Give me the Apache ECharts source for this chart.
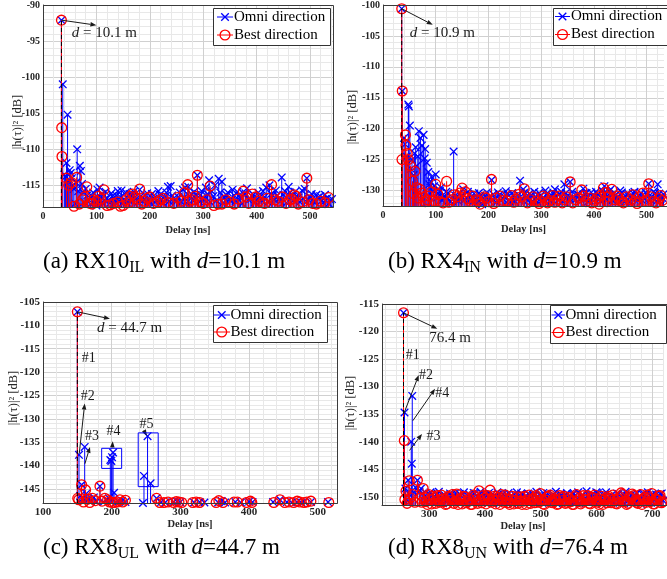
<!DOCTYPE html>
<html><head><meta charset="utf-8">
<script src="https://cdn.jsdelivr.net/npm/echarts@6/dist/echarts.min.js"></script>
<style>html,body{margin:0;padding:0;background:#fff}#c{width:667px;height:579px}</style>
</head><body><div id="c"></div>
<script>
// ---------------- DATA (delay [ns], |h|^2 [dB]) ----------------
const xTickStep = 100;   // labelled x ticks
const yTickStep = 5;     // labelled y ticks

// (a) RX10_IL
const omniA = [[34.5,-92.1],[37,-101.0],[40,-113.5],[42,-113.8],[44,-111.9],[46,-105.2],[48,-114.5],[50,-112.9],[52,-113.3],[54,-114.0],[56,-115.0],[58,-115.5],[60,-117.5],[62,-114.6],[64,-110.0],[66,-115.8],[69,-112.3],[71,-113.0],[73,-114.8],[75,-116.0],[80,-115.5],[86,-117.0],[92,-116.5],[97,-117.2],[100,-117.8],[102,-115.6],[106,-115.3],[110,-116.2],[115,-117.0],[120,-116.8],[126,-117.4],[130,-116.5],[135,-117.1],[140,-115.8],[145,-116.6],[150,-117.3],[155,-116.0],[160,-117.0],[165,-116.3],[170,-115.9],[175,-116.8],[181,-115.6],[186,-117.2],[192,-116.4],[198,-117.0],[204,-116.2],[210,-117.3],[216,-115.8],[222,-116.9],[228,-116.6],[234,-115.2],[239,-115.1],[245,-116.8],[250,-117.2],[256,-116.0],[262,-115.6],[266,-115.3],[272,-115.2],[278,-116.2],[283,-115.9],[289,-113.6],[295,-116.3],[300,-116.9],[305,-115.3],[311,-114.3],[316,-115.8],[322,-115.0],[329,-114.1],[335,-114.5],[340,-116.7],[346,-116.0],[352,-117.1],[358,-116.4],[364,-115.9],[370,-116.8],[376,-116.2],[382,-115.4],[388,-116.9],[394,-116.3],[400,-117.0],[406,-116.6],[412,-115.8],[418,-115.3],[424,-115.0],[430,-116.4],[436,-115.7],[442,-116.8],[447,-113.9],[453,-115.8],[460,-115.2],[466,-116.5],[472,-115.9],[478,-116.7],[485,-115.7],[490,-115.5],[494,-114.0],[500,-116.6],[506,-117.2],[512,-116.3],[519,-116.5],[525,-117.4],[532,-116.8],[538,-117.0]];
const omniAFloor = [[77,-117.3],[83,-116.4],[89,-117.6],[94,-116.0],[99,-116.8],[104,-117.1],[108,-116.7],[112,-117.5],[117,-115.9],[123,-117.0],[128,-116.1],[132,-117.6],[137,-116.4],[142,-117.2],[147,-115.7],[152,-116.9],[157,-117.4],[162,-116.2],[167,-117.1],[172,-116.6],[178,-117.3],[183,-116.5],[189,-117.0],[195,-116.1],[201,-117.4],[207,-116.8],[213,-117.1],[219,-116.3],[225,-117.5],[231,-116.0],[236,-117.2],[242,-116.4],[247,-117.0],[253,-116.6],[259,-117.3],[264,-116.7],[269,-117.4],[275,-116.5],[280,-117.1],[286,-116.3],[292,-117.2],[297,-115.8],[302,-117.0],[308,-116.2],[313,-117.3],[319,-116.5],[325,-117.1],[332,-116.0],[337,-117.4],[343,-116.3],[349,-117.0],[355,-115.6],[361,-117.2],[367,-116.4],[373,-117.5],[379,-116.1],[385,-117.0],[391,-116.5],[397,-117.3],[403,-116.0],[409,-117.1],[415,-116.6],[421,-117.3],[427,-116.2],[433,-117.0],[439,-116.4],[444,-117.2],[450,-116.3],[456,-117.4],[463,-116.0],[469,-117.1],[475,-116.5],[481,-117.3],[487,-116.8],[497,-117.0],[503,-116.2],[509,-117.4],[515,-116.7],[522,-117.1],[528,-116.3],[535,-117.5],[541,-116.9]];
const bestA = [[34.5,-92.1],[35,-107.0],[35.5,-111.0],[44,-114.0],[48,-115.0],[53,-114.6],[58,-117.9],[63,-113.9],[68,-117.6],[74,-117.0],[78,-116.6],[82,-115.2],[88,-117.5],[92,-117.6],[95,-117.0],[100,-117.2],[104,-116.5],[108,-116.9],[114,-115.6],[120,-117.8],[126,-117.7],[132,-117.5],[140,-117.3],[145,-117.9],[150,-117.8],[156,-117.0],[160,-117.4],[163,-116.5],[168,-116.2],[172,-116.6],[176,-116.9],[181,-115.5],[185,-117.6],[190,-117.2],[195,-116.8],[200,-116.6],[207,-117.5],[215,-117.3],[220,-117.0],[225,-116.8],[235,-117.4],[245,-117.5],[252,-116.7],[258,-117.2],[265,-116.0],[271,-114.9],[275,-117.2],[280,-117.0],[285,-116.5],[289,-113.6],[295,-117.3],[300,-117.5],[307,-117.0],[313,-115.1],[320,-117.8],[328,-117.6],[335,-117.6],[342,-117.0],[350,-117.3],[358,-117.6],[365,-116.9],[375,-115.8],[380,-116.6],[385,-117.5],[392,-116.2],[398,-116.6],[404,-117.2],[410,-117.4],[415,-117.5],[420,-116.8],[428,-114.9],[434,-117.0],[440,-117.2],[448,-116.6],[455,-117.5],[462,-117.0],[466,-116.9],[470,-116.3],[474,-116.5],[478,-117.6],[486,-117.3],[494,-114.0],[498,-117.0],[505,-117.5],[512,-117.6],[520,-117.2],[528,-117.4],[535,-116.7]];
const losA = [[34.5,-92.1]];

// (b) RX4_IN
const omniB = [[35.5,-100.6],[36.5,-113.9],[40,-121.5],[42,-122.5],[45,-124.5],[48,-116.1],[49,-116.4],[51,-119.5],[53,-126.5],[55,-125.0],[58,-127.5],[60,-124.0],[62,-123.0],[64,-126.0],[66,-124.5],[68,-120.4],[71,-121.5],[74,-122.7],[77,-121.0],[79,-124.8],[80,-123.3],[83,-125.5],[86,-127.0],[88,-129.0],[90,-128.5],[92,-127.8],[95,-130.0],[97,-129.3],[100,-127.4],[105,-130.5],[110,-129.5],[115,-131.0],[120,-130.2],[126,-131.5],[134,-123.7],[140,-131.0],[146,-130.4],[152,-129.8],[158,-131.2],[164,-130.7],[170,-131.8],[176,-131.3],[182,-130.4],[188,-132.2],[194,-130.9],[200,-131.5],[206,-128.3],[212,-131.2],[218,-130.3],[224,-131.6],[230,-131.0],[236,-130.6],[242,-131.8],[248,-130.9],[254,-131.3],[260,-128.4],[266,-129.8],[272,-131.0],[278,-130.5],[284,-131.7],[290,-131.1],[296,-130.4],[302,-131.5],[308,-130.0],[314,-131.3],[320,-130.8],[326,-129.8],[332,-131.5],[338,-130.2],[344,-129.0],[350,-130.8],[355,-128.6],[362,-131.2],[368,-130.6],[374,-131.4],[380,-129.7],[386,-130.4],[392,-131.6],[398,-131.0],[404,-130.2],[410,-131.5],[416,-130.0],[420,-129.3],[426,-130.8],[432,-129.8],[438,-130.4],[444,-131.2],[450,-130.0],[456,-131.4],[462,-130.6],[468,-131.8],[474,-130.4],[480,-131.2],[486,-130.9],[492,-131.6],[498,-130.3],[504,-128.9],[510,-131.0],[516,-130.4],[521,-129.0],[527,-131.3],[532,-130.6]];
const omniBFloor = [[102,-131.2],[108,-130.0],[112,-131.6],[118,-131.0],[123,-130.4],[129,-131.8],[137,-130.8],[143,-131.7],[149,-130.9],[155,-131.5],[161,-130.2],[167,-131.4],[173,-130.5],[179,-131.9],[185,-130.8],[191,-131.6],[197,-130.3],[203,-131.2],[209,-130.6],[215,-131.9],[221,-130.7],[227,-131.3],[233,-130.1],[239,-131.5],[245,-130.4],[251,-131.8],[257,-130.7],[263,-131.4],[269,-130.3],[275,-131.6],[281,-130.8],[287,-130.2],[293,-131.8],[299,-130.9],[305,-131.4],[311,-130.5],[317,-131.7],[323,-130.3],[329,-131.0],[335,-130.6],[341,-131.8],[347,-130.4],[353,-131.3],[359,-130.2],[365,-131.5],[371,-130.7],[377,-131.2],[383,-130.5],[389,-131.8],[395,-130.3],[401,-131.1],[407,-130.6],[413,-131.7],[419,-130.4],[423,-131.4],[429,-130.1],[435,-131.6],[441,-130.7],[447,-131.3],[453,-130.3],[459,-131.8],[465,-130.5],[471,-131.0],[477,-130.2],[483,-131.6],[489,-130.4],[495,-131.3],[501,-130.6],[507,-131.5],[513,-130.2],[519,-131.7],[524,-130.5],[530,-131.2]];
const bestB = [[35.5,-100.6],[36.5,-113.9],[36,-125.0],[42.5,-121.0],[43.5,-122.7],[46,-124.0],[48,-125.0],[52,-126.0],[56,-128.5],[58,-130.5],[60.6,-126.9],[64,-129.5],[67,-131.2],[70,-129.8],[73,-130.4],[76,-131.0],[80,-131.8],[84,-131.5],[88,-130.9],[92,-130.2],[96,-131.6],[100,-129.0],[104,-130.6],[108,-131.8],[114,-132.0],[120.7,-128.5],[125,-131.9],[130,-131.5],[135,-130.7],[140,-131.0],[146,-130.4],[150,-129.6],[156,-130.2],[160,-131.3],[164,-131.6],[170,-130.9],[176,-131.5],[180,-131.6],[184,-132.2],[192,-131.0],[196,-131.2],[200,-131.8],[205.8,-128.2],[210,-132.1],[215,-131.2],[222,-130.9],[228,-131.6],[236,-131.7],[244,-130.8],[248,-131.9],[252,-131.4],[258,-130.6],[262,-131.0],[268,-129.7],[274,-132.0],[280,-131.5],[285,-131.0],[290,-131.7],[296,-132.1],[300,-131.8],[304,-130.9],[308,-131.2],[312,-132.0],[316,-131.6],[322,-130.8],[326,-131.9],[330,-131.4],[335,-130.9],[340,-132.0],[344,-131.5],[348,-131.0],[355,-128.6],[360,-132.0],[365,-131.5],[371,-131.2],[377,-129.9],[381,-130.9],[385,-131.8],[392,-131.2],[396,-132.0],[402,-131.6],[406,-131.2],[410,-132.2],[413,-130.8],[418,-129.6],[422,-130.3],[425,-131.8],[428,-131.0],[434,-129.8],[440,-131.5],[444,-130.9],[448,-131.3],[452,-131.7],[456,-132.0],[462,-131.0],[470,-131.5],[474,-130.7],[478,-131.8],[482,-132.1],[486,-131.0],[493,-130.4],[498,-131.6],[504,-128.9],[508,-131.0],[512,-131.8],[518,-132.0],[524,-131.3],[527,-130.8],[530,-131.6]];
const losB = [[35.5,-100.6]];

// (c) RX8_UL
const omniC = [[150,-107.1],[152.4,-137.7],[154,-146.5],[156.2,-144.1],[158,-147.0],[160.7,-136.0],[163,-146.0],[166,-147.2],[170,-147.5],[174,-146.8],[178,-147.7],[182.9,-144.4],[188,-147.8],[192,-147.3],[196,-147.0],[198,-138.8],[199.5,-139.0],[200.5,-138.2],[202,-137.2],[203.5,-145.8],[206,-147.9],[210,-147.7],[215,-147.5],[220,-147.8],[245.5,-148.0],[247,-142.2],[252.2,-133.7],[256.6,-143.8],[265.3,-147.0],[272,-147.8],[278,-147.9],[290,-147.8],[295,-147.7],[300,-147.8],[320,-147.9],[328,-147.8],[335,-147.9],[355,-147.9],[360,-147.6],[365,-147.9],[380,-147.8],[388,-147.9],[400,-147.7],[405,-147.8],[435,-147.8],[445,-147.3],[455,-147.8],[462,-147.9],[470,-147.8],[476,-147.9],[480,-147.7],[490,-147.8],[515,-147.8]];
const bestC = [[150,-107.1],[150.5,-147.0],[152,-147.3],[156.2,-144.1],[159,-147.8],[162,-145.2],[164.5,-147.2],[168,-147.9],[172,-147.0],[176,-147.5],[182.9,-144.4],[186,-147.6],[190,-147.0],[194,-147.3],[197,-147.8],[201,-147.9],[204,-147.9],[208,-147.8],[212,-147.3],[216,-147.8],[220,-147.4],[265.3,-147.0],[270,-147.9],[276,-147.9],[282,-147.8],[290,-147.9],[294,-147.7],[298,-147.8],[302,-147.9],[318,-147.9],[323,-147.8],[328,-147.9],[352,-147.9],[356,-147.5],[362,-147.9],[378,-147.8],[383,-147.8],[396,-147.9],[402,-147.6],[404,-147.9],[436,-147.9],[445,-147.3],[452,-147.9],[458,-147.8],[465,-147.9],[470,-147.6],[474,-147.8],[480,-147.9],[484,-147.8],[490,-147.6],[516,-147.9]];
const losC = [[150,-107.1]];

// (d) RX8_UN
const omniD = [[253.6,-116.6],[255.4,-134.7],[257,-148.5],[259,-150.5],[262,-147.0],[264,-149.5],[267.5,-140.0],[268.5,-144.0],[269.3,-131.7],[272,-149.2],[275,-148.3],[278.6,-147.0],[282,-149.0],[285,-148.5],[288,-149.4],[292,-149.8],[297,-150.3],[302,-149.2],[307,-150.6],[312,-149.6],[317,-149.1],[322,-150.2],[327,-149.7],[332,-150.8],[337,-149.4],[342,-150.1],[347,-149.3],[352,-150.5],[357,-149.8],[362,-149.2],[367,-150.3],[372,-149.6],[377,-150.9],[382,-149.4],[387,-149.9],[392,-149.1],[397,-150.4],[402,-149.7],[407,-149.3],[412,-150.6],[417,-149.8],[422,-149.2],[427,-150.1],[432,-149.5],[437,-150.7],[442,-149.3],[447,-149.9],[452,-150.4],[457,-149.2],[462,-150.0],[467,-149.6],[472,-150.8],[477,-149.4],[482,-150.2],[487,-149.7],[492,-149.1],[497,-150.5],[502,-149.8],[507,-150.3],[512,-149.4],[517,-150.9],[522,-149.6],[527,-149.1],[532,-150.2],[537,-149.7],[542,-150.6],[547,-149.3],[552,-150.0],[557,-149.5],[562,-150.7],[567,-149.2],[572,-149.9],[577,-150.4],[582,-149.0],[587,-150.1],[592,-149.6],[597,-150.8],[602,-149.3],[607,-150.2],[612,-149.7],[617,-149.2],[622,-150.5],[627,-149.8],[632,-150.3],[637,-149.4],[642,-150.9],[647,-149.6],[652,-149.1],[657,-150.2],[662,-149.7],[667,-150.6],[672,-149.3],[677,-150.0],[682,-149.5],[687,-150.7],[692,-149.2],[697,-149.9],[702,-150.4],[707,-149.6],[712,-150.1],[717,-149.4]];
const omniDFloor = [[294.5,-150.9],[299.5,-149.5],[304.5,-151.0],[309.5,-150.1],[314.5,-149.4],[319.5,-150.7],[324.5,-151.2],[329.5,-149.9],[334.5,-150.4],[339.5,-149.6],[344.5,-151.1],[349.5,-150.2],[354.5,-149.5],[359.5,-150.8],[364.5,-151.3],[369.5,-149.8],[374.5,-150.5],[379.5,-149.3],[384.5,-150.9],[389.5,-150.2],[394.5,-151.1],[399.5,-149.6],[404.5,-150.7],[409.5,-149.9],[414.5,-151.2],[419.5,-150.4],[424.5,-149.5],[429.5,-150.8],[434.5,-151.0],[439.5,-149.7],[444.5,-150.5],[449.5,-151.3],[454.5,-149.8],[459.5,-150.6],[464.5,-149.4],[469.5,-151.0],[474.5,-150.1],[479.5,-149.6],[484.5,-150.9],[489.5,-151.2],[494.5,-149.9],[499.5,-150.4],[504.5,-149.3],[509.5,-150.7],[514.5,-151.1],[519.5,-149.8],[524.5,-150.5],[529.5,-151.3],[534.5,-149.5],[539.5,-150.3],[544.5,-149.9],[549.5,-151.0],[554.5,-150.2],[559.5,-149.4],[564.5,-150.8],[569.5,-151.2],[574.5,-149.7],[579.5,-150.6],[584.5,-151.0],[589.5,-149.8],[594.5,-150.4],[599.5,-149.2],[604.5,-150.9],[609.5,-151.3],[614.5,-149.6],[619.5,-150.5],[624.5,-149.9],[629.5,-151.1],[634.5,-150.2],[639.5,-149.5],[644.5,-150.7],[649.5,-151.2],[654.5,-149.8],[659.5,-150.4],[664.5,-151.0],[669.5,-149.7],[674.5,-150.6],[679.5,-151.3],[684.5,-149.4],[689.5,-150.3],[694.5,-150.9],[699.5,-149.6],[704.5,-150.2],[709.5,-151.1],[714.5,-149.5],[719.5,-150.7]];
const bestD = [[253.6,-116.6],[255,-139.8],[256,-150.5],[258,-149.0],[260,-151.2],[264,-147.1],[266,-150.2],[270,-149.6],[274,-151.0],[278.6,-147.0],[283,-150.3],[289,-148.5],[294,-150.9],[299,-149.6],[304,-151.3],[309,-150.2],[314,-149.8],[319,-151.0],[324,-150.4],[329,-151.4],[334,-149.9],[339,-150.7],[344,-151.2],[349,-149.5],[354,-150.6],[359,-151.3],[364,-150.0],[369,-150.8],[374,-151.4],[379,-149.7],[384,-150.5],[389,-148.9],[394,-151.1],[399,-150.3],[404,-149.8],[409,-148.8],[414,-150.6],[419,-151.3],[424,-150.1],[429,-149.6],[434,-151.0],[439,-150.4],[444,-151.4],[449,-149.9],[454,-150.7],[459,-151.2],[464,-150.0],[469,-150.8],[474,-151.4],[479,-149.7],[484,-150.5],[489,-151.1],[494,-150.2],[499,-149.4],[504,-151.3],[509,-150.6],[514,-149.9],[519,-151.0],[524,-150.4],[529,-151.4],[534,-149.8],[539,-150.7],[544,-151.2],[549,-150.1],[554,-150.9],[559,-151.4],[564,-149.6],[569,-150.3],[574,-151.0],[579,-150.5],[584,-149.8],[589,-151.3],[594,-150.2],[599,-150.8],[604,-151.4],[609,-149.9],[614,-150.6],[619,-151.1],[624,-150.3],[629,-149.7],[634,-151.2],[639,-150.4],[644,-149.3],[649,-150.9],[654,-151.4],[659,-150.0],[664,-149.5],[669,-150.7],[674,-151.2],[679,-149.6],[684,-150.4],[689,-151.0],[694,-150.2],[699,-149.4],[704,-151.3],[709,-150.6],[714,-149.8],[719,-150.9]];
const bestDFloor = [[286.5,-151.0],[291.5,-150.2],[296.5,-151.4],[301.5,-150.5],[306.5,-149.9],[311.5,-151.2],[316.5,-150.6],[321.5,-149.7],[326.5,-150.9],[331.5,-151.3],[336.5,-150.1],[341.5,-149.6],[346.5,-150.8],[351.5,-151.4],[356.5,-150.3],[361.5,-149.9],[366.5,-151.1],[371.5,-150.4],[376.5,-151.4],[381.5,-150.0],[386.5,-151.2],[391.5,-150.6],[396.5,-149.8],[401.5,-151.3],[406.5,-150.4],[411.5,-151.0],[416.5,-149.9],[421.5,-150.7],[426.5,-151.4],[431.5,-150.2],[436.5,-149.7],[441.5,-151.1],[446.5,-150.5],[451.5,-151.3],[456.5,-150.0],[461.5,-150.8],[466.5,-151.4],[471.5,-149.9],[476.5,-150.6],[481.5,-151.2],[486.5,-150.3],[491.5,-149.8],[496.5,-151.0],[501.5,-150.5],[506.5,-151.4],[511.5,-150.1],[516.5,-149.7],[521.5,-151.1],[526.5,-150.6],[531.5,-151.3],[536.5,-150.2],[541.5,-149.9],[546.5,-151.0],[551.5,-150.4],[556.5,-151.4],[561.5,-150.0],[566.5,-150.8],[571.5,-151.3],[576.5,-149.8],[581.5,-150.6],[586.5,-151.2],[591.5,-150.1],[596.5,-149.7],[601.5,-151.0],[606.5,-150.4],[611.5,-151.4],[616.5,-150.2],[621.5,-149.9],[626.5,-151.1],[631.5,-150.5],[636.5,-151.3],[641.5,-150.0],[646.5,-149.6],[651.5,-150.8],[656.5,-151.2],[661.5,-150.3],[666.5,-149.8],[671.5,-151.0],[676.5,-150.6],[681.5,-151.4],[686.5,-150.1],[691.5,-149.7],[696.5,-150.9],[701.5,-151.3],[706.5,-150.4],[711.5,-149.9],[716.5,-151.1]];
const losD = [[253.6,-116.6]];

const captions = ['(a) RX10{s|IL} with {i|d}=10.1 m','(b) RX4{s|IN} with {i|d}=10.9 m','(c) RX8{s|UL} with {i|d}=44.7 m','(d) RX8{s|UN} with {i|d}=76.4 m'];
const distLabels = ['{i|d} = 10.1 m','{i|d} = 10.9 m','{i|d} = 44.7 m','76.4 m'];
const legendNames = ['Omni direction','Best direction'];

// ---------------- LAYOUT / STYLE ----------------
const SERIF = '"Liberation Serif","Times New Roman",serif';
const MAJ = '#d0d0d0', MIN = '#e8e8e8', TR = 'rgba(0,0,0,0)';
const AX = '#3a3a3a', BLUE = '#0000ff', RED = '#ff0000';
const MW = 1.3; // marker stroke width

function isMul(v, m) { const q = v / m; return Math.abs(q - Math.round(q)) < 1e-6; }
function cycle(min, step, minor, major) {
  const n = Math.round(major / step), out = [];
  for (let i = 0; i < n; i++) { const v = min + i * step; out.push(isMul(v, major) ? MAJ : (isMul(v, minor) ? MIN : TR)); }
  return out;
}

const panels = [
  {grid:{left:43,top:5,width:290,height:202}, x:{min:0,max:543,step:20}, y:{min:-118,max:-90,step:1}, fs:10, omni:omniA.concat(omniAFloor), best:bestA, los:losA},
  {grid:{left:383,top:5,width:284,height:201}, x:{min:0,max:533,step:20}, y:{min:-132.5,max:-100,step:0.5}, fs:10, omni:omniB.concat(omniBFloor), best:bestB, los:losB},
  {grid:{left:43,top:302,width:294,height:201}, x:{min:100,max:528,step:20}, y:{min:-148,max:-105,step:1}, fs:11, omni:omniC, best:bestC, los:losC},
  {grid:{left:382,top:304,width:285,height:201}, x:{min:215,max:721,step:5}, y:{min:-151.5,max:-115,step:0.5}, fs:11, omni:omniD.concat(omniDFloor), best:bestD.concat(bestDFloor), los:losD}
];

function stemRender(color, kind) {
  return function (params, api) {
    const p = api.coord([api.value(0), api.value(1)]);
    const cs = params.coordSys;
    const bottom = cs.y + cs.height;
    const st = {stroke: color, lineWidth: 1};
    const mk = {stroke: color, lineWidth: MW};
    const children = [{type:'line', shape:{x1:p[0], y1:bottom, x2:p[0], y2:p[1]}, style: Object.assign({}, st, kind === 'dash' ? {lineDash:[4,3], stroke:'#000'} : {})}];
    if (kind === 'x') {
      const s = 3.8;
      children.push({type:'line', shape:{x1:p[0]-s,y1:p[1]-s,x2:p[0]+s,y2:p[1]+s}, style:mk});
      children.push({type:'line', shape:{x1:p[0]-s,y1:p[1]+s,x2:p[0]+s,y2:p[1]-s}, style:mk});
    } else if (kind === 'o') {
      children.push({type:'circle', shape:{cx:p[0], cy:p[1], r:4.9}, style:{fill:'none', stroke:color, lineWidth:MW}});
    }
    return {type:'group', children};
  };
}

const grids = [], xAxes = [], yAxes = [], series = [];
panels.forEach((P, i) => {
  grids.push(Object.assign({show:false, containLabel:false}, P.grid));
  xAxes.push({
    gridIndex:i, type:'value', min:P.x.min, max:P.x.max, interval:P.x.step,
    axisLine:{show:true, onZero:false, lineStyle:{color:AX}}, axisTick:{show:false},
    splitLine:{show:true, showMaxLine:false, lineStyle:{color:cycle(P.x.min, P.x.step, 20, xTickStep), width:1}},
    axisLabel:{formatter:v => isMul(v, xTickStep) ? String(Math.round(v)) : '', fontFamily:SERIF, fontWeight:'bold', fontSize:P.fs, color:'#262626', margin:4},
    name:'Delay [ns]', nameLocation:'middle', nameGap: i < 2 ? 18 : 16,
    nameTextStyle:{fontFamily:SERIF, fontWeight:'bold', fontSize:10.5, color:'#262626'}
  });
  yAxes.push({
    gridIndex:i, type:'value', min:P.y.min, max:P.y.max, interval:P.y.step,
    axisLine:{show:true, onZero:false, lineStyle:{color:AX}}, axisTick:{show:false},
    splitLine:{show:true, showMaxLine:false, lineStyle:{color:cycle(P.y.min, P.y.step, 1, yTickStep), width:1}},
    axisLabel:{formatter:v => isMul(v, yTickStep) ? String(Math.round(v)) : '', fontFamily:SERIF, fontWeight:'bold', fontSize:P.fs, color:'#262626', margin:3}
  });
  series.push({type:'custom', name:legendNames[0], xAxisIndex:i, yAxisIndex:i, data:P.omni, encode:{x:0,y:1}, renderItem:stemRender(BLUE,'x'), z:2, silent:true});
  series.push({type:'custom', name:legendNames[1], xAxisIndex:i, yAxisIndex:i, data:P.best, encode:{x:0,y:1}, renderItem:stemRender(RED,'o'), z:3, silent:true});
  series.push({type:'custom', name:'LoS', xAxisIndex:i, yAxisIndex:i, data:P.los, encode:{x:0,y:1}, renderItem:stemRender('#000','dash'), z:4, silent:true});
});

const chart = echarts.init(document.getElementById('c'));
chart.setOption({animation:false, backgroundColor:'#fff', grid:grids, xAxis:xAxes, yAxis:yAxes, series});

// ---------------- ANNOTATIONS ----------------
const annotations = [
  {arrows:[[[34.5,-92.1],[100,-92.8]]], texts:[[54,-93.9,distLabels[0],15]], boxes:[]},
  {arrows:[[[35.5,-100.6],[94.4,-103.2]]], texts:[[50.7,-104.6,distLabels[1],15]], boxes:[]},
  {arrows:[[[150,-107.1],[197.5,-108.6]],[[152.8,-137.4],[160.7,-126.7]],[[161,-139.6],[168.4,-136]],[[201,-135.9],[201.5,-134.8]],[[246.5,-132.4],[251.3,-133.6]]],
   texts:[[178.5,-110.5,distLabels[2],15],[156.3,-117.0,'#1',14],[155,-125.2,'#2',14],[161,-133.8,'#3',14],[192.6,-132.7,'#4',14],[240.6,-131.2,'#5',14]],
   boxes:[[[185.4,-136.3],[214.5,-140.6]],[[238.6,-133],[267.7,-144.5]]]},
  {arrows:[[[253.6,-116.6],[314.3,-119.5]],[[253.8,-135],[281,-127.9]],[[270.3,-136.2],[310.2,-130.4]],[[264.3,-141.6],[286.8,-138.6]]],
   texts:[[300,-121.2,distLabels[3],15],[257.4,-124.3,'#1',14],[281.6,-127.9,'#2',14],[310.7,-131.2,'#4',14],[294.8,-139,'#3',14]], boxes:[]}
];
const legendBoxes = [
  {x:213,y:8,w:117,h:37,lx1:217,lx2:233,tx:234,y1:17,y2:35},
  {x:553,y:8,w:116,h:37,lx1:555,lx2:570,tx:571,y1:16.5,y2:34.5},
  {x:213,y:305,w:114,h:37,lx1:213.5,lx2:230,tx:230.5,y1:315,y2:332},
  {x:550,y:305,w:116,h:38,lx1:551.5,lx2:565,tx:565.5,y1:315,y2:332.5}
];
const yTitlePos = [[18,122],[353,117],[14,398],[351,403]];
const captionPos = [[43,262],[388,262],[43,548],[388,548]];

const G = [];
function arrow(p1, p2) {
  const ang = Math.atan2(p2[1]-p1[1], p2[0]-p1[0]);
  const L = 6, W = 2.3;
  const bx = p2[0] - L*Math.cos(ang), by = p2[1] - L*Math.sin(ang);
  const nx = -Math.sin(ang), ny = Math.cos(ang);
  G.push({type:'line', z:50, shape:{x1:p1[0],y1:p1[1],x2:bx,y2:by}, style:{stroke:'#1a1a1a', lineWidth:1}});
  G.push({type:'polygon', z:50, shape:{points:[[p2[0],p2[1]],[bx+nx*W,by+ny*W],[bx-nx*W,by-ny*W]]}, style:{fill:'#1a1a1a'}});
}
annotations.forEach((A, i) => {
  const px = v => chart.convertToPixel({gridIndex:i}, v);
  A.arrows.forEach(a => arrow(px(a[0]), px(a[1])));
  A.texts.forEach(t => {
    const p = px([t[0], t[1]]);
    G.push({type:'text', z:50, x:p[0], y:p[1], style:{text:t[2], fontFamily:SERIF, fontSize:t[3], fill:'#1a1a1a', align:'left', verticalAlign:'middle', rich:{i:{fontStyle:'italic', fontFamily:SERIF, fontSize:t[3], fill:'#1a1a1a'}}}});
  });
  A.boxes.forEach(b => {
    const p1 = px(b[0]), p2 = px(b[1]);
    G.push({type:'rect', z:50, shape:{x:Math.min(p1[0],p2[0]), y:Math.min(p1[1],p2[1]), width:Math.abs(p2[0]-p1[0]), height:Math.abs(p2[1]-p1[1])}, style:{fill:'none', stroke:BLUE, lineWidth:1}});
  });
});
// plot borders
panels.forEach(P => {
  const g = P.grid;
  G.push({type:'rect', z:40, shape:{x:g.left+0.5, y:g.top+0.5, width:g.width, height:g.height}, style:{fill:'none', stroke:AX, lineWidth:1}});
});
// legends
legendBoxes.forEach(L => {
  G.push({type:'rect', z:60, shape:{x:L.x+0.5, y:L.y+0.5, width:L.w, height:L.h}, style:{fill:'#fff', stroke:'#333', lineWidth:1}});
  const mx = (L.lx1 + L.lx2) / 2, s = 3.8;
  G.push({type:'line', z:61, shape:{x1:L.lx1,y1:L.y1,x2:L.lx2,y2:L.y1}, style:{stroke:BLUE, lineWidth:1}});
  G.push({type:'line', z:61, shape:{x1:mx-s,y1:L.y1-s,x2:mx+s,y2:L.y1+s}, style:{stroke:BLUE, lineWidth:MW}});
  G.push({type:'line', z:61, shape:{x1:mx-s,y1:L.y1+s,x2:mx+s,y2:L.y1-s}, style:{stroke:BLUE, lineWidth:MW}});
  G.push({type:'line', z:61, shape:{x1:L.lx1,y1:L.y2,x2:L.lx2,y2:L.y2}, style:{stroke:RED, lineWidth:1}});
  G.push({type:'circle', z:61, shape:{cx:mx, cy:L.y2, r:4.9}, style:{fill:'none', stroke:RED, lineWidth:MW}});
  G.push({type:'text', z:61, x:L.tx, y:L.y1, style:{text:legendNames[0], fontFamily:SERIF, fontSize:15, fill:'#000', align:'left', verticalAlign:'middle'}});
  G.push({type:'text', z:61, x:L.tx, y:L.y2, style:{text:legendNames[1], fontFamily:SERIF, fontSize:15, fill:'#000', align:'left', verticalAlign:'middle'}});
});
// y titles
yTitlePos.forEach(p => {
  G.push({type:'text', z:50, x:p[0], y:p[1], rotation:Math.PI/2, style:{text:'|h(τ)|² [dB]', fontFamily:SERIF, fontSize:12.5, fill:'#262626', align:'center', verticalAlign:'middle'}});
});
// captions
captionPos.forEach((p, i) => {
  G.push({type:'text', z:50, x:p[0], y:p[1], style:{text:captions[i], fontFamily:SERIF, fontSize:23, lineHeight:28, fill:'#000', align:'left', verticalAlign:'middle',
    rich:{s:{fontFamily:SERIF, fontSize:16, lineHeight:13, verticalAlign:'bottom', fill:'#000'}, i:{fontFamily:SERIF, fontSize:23, lineHeight:28, fontStyle:'italic', fill:'#000'}}}});
});
chart.setOption({graphic:G});
</script></body></html>
